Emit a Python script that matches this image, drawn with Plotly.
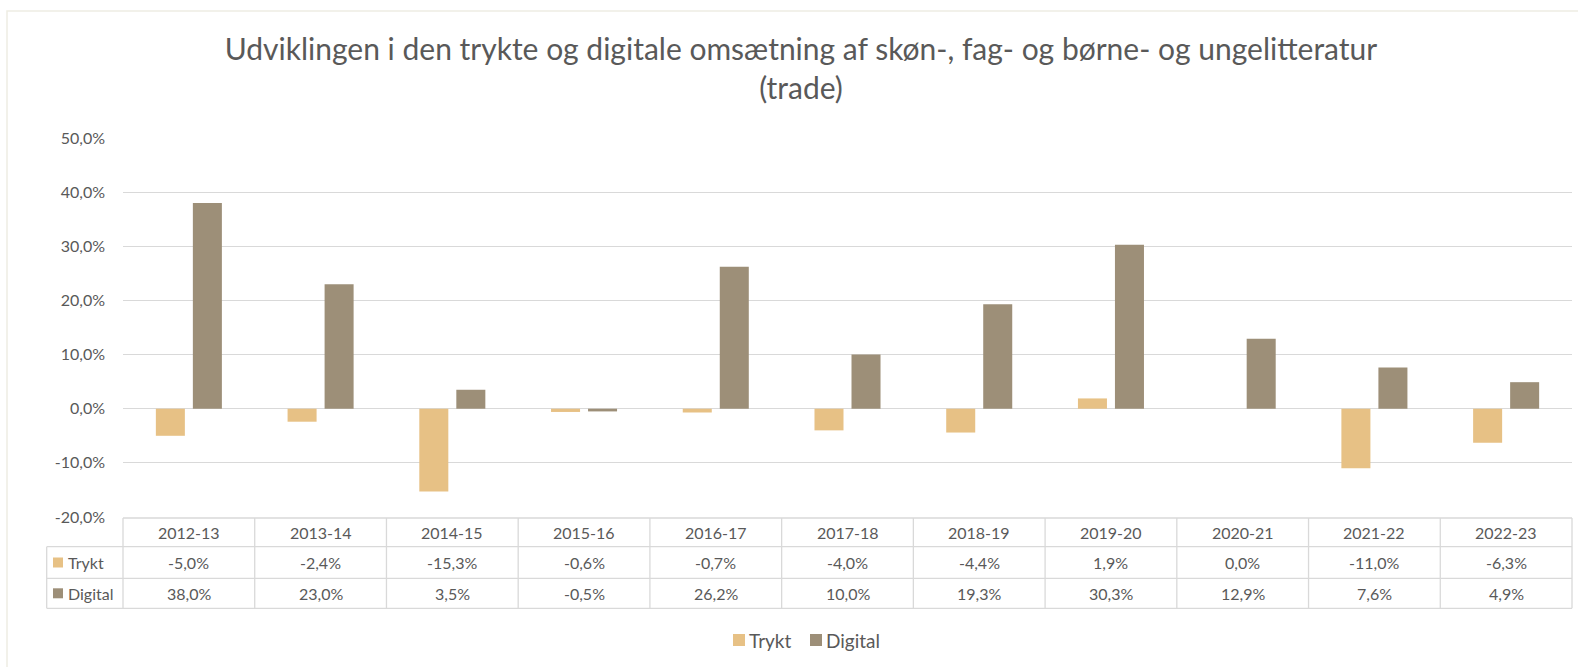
import plotly.graph_objects as go

# ---- data ----
categories = ["2012-13", "2013-14", "2014-15", "2015-16", "2016-17", "2017-18",
              "2018-19", "2019-20", "2020-21", "2021-22", "2022-23"]
trykt = [-5.0, -2.4, -15.3, -0.6, -0.7, -4.0, -4.4, 1.9, 0.0, -11.0, -6.3]
digital = [38.0, 23.0, 3.5, -0.5, 26.2, 10.0, 19.3, 30.3, 12.9, 7.6, 4.9]
series_names = ["Trykt", "Digital"]
y_ticks = [-20, -10, 0, 10, 20, 30, 40, 50]
title_text = "Udviklingen i den trykte og digitale omsætning af skøn-, fag- og børne- og ungelitteratur<br>(trade)"

# ---- style ----
W, H = 1578, 667
ML, MR, MT, MB = 123, 6, 138, 150
PW = W - ML - MR
PH = H - MT - MB
colors = ["#E7C185", "#9D8F78"]
txt = "#595959"
grid = "#D9D9D9"
FONT = "Lato"
FS = 16


def px(xp):
    return (xp - ML) / PW


def py(yp):
    return (MT + PH - yp) / PH


def fmt(v):
    return f"{v:.1f}".replace(".", ",") + "%"


fig = go.Figure()
for name, vals, c in zip(series_names, [trykt, digital], colors):
    fig.add_trace(go.Bar(x=categories, y=vals, name=name, marker_color=c,
                         marker_line_width=0, showlegend=False))

shapes = []
annotations = []
n = len(categories)
y_top, y_r1, y_r2, y_bot = 518, 546.7, 578.3, 608.3
left_x = 46.7

# table horizontal lines
shapes.append(dict(type="line", xref="paper", yref="paper", x0=0, x1=1,
                   y0=py(y_top), y1=py(y_top), line=dict(color=grid, width=1.3)))
for yy in [y_r1, y_r2, y_bot]:
    shapes.append(dict(type="line", xref="paper", yref="paper", x0=px(left_x), x1=1,
                       y0=py(yy), y1=py(yy), line=dict(color=grid, width=1.3)))
# table vertical lines
for i in range(n + 1):
    shapes.append(dict(type="line", xref="paper", yref="paper", x0=i / n, x1=i / n,
                       y0=py(y_top), y1=py(y_bot), line=dict(color=grid, width=1.3)))
shapes.append(dict(type="line", xref="paper", yref="paper", x0=px(left_x), x1=px(left_x),
                   y0=py(y_r1), y1=py(y_bot), line=dict(color=grid, width=1.3)))

# table text
for c in categories:
    annotations.append(dict(x=c, xref="x", y=py((y_top + y_r1) / 2), yref="paper",
                            text=c, showarrow=False, xanchor="center", yanchor="middle",
                            font=dict(family=FONT, size=FS, color=txt)))
row_centers = [(y_r1 + y_r2) / 2, (y_r2 + y_bot) / 2]
for name, vals, c, yc in zip(series_names, [trykt, digital], colors, row_centers):
    for cat, v in zip(categories, vals):
        annotations.append(dict(x=cat, xref="x", y=py(yc), yref="paper",
                                text=fmt(v), showarrow=False, xanchor="center",
                                yanchor="middle",
                                font=dict(family=FONT, size=FS, color=txt)))
    shapes.append(dict(type="rect", xref="paper", yref="paper", x0=px(53), x1=px(63),
                       y0=py(yc - 5), y1=py(yc + 5), fillcolor=c, line=dict(width=0)))
    annotations.append(dict(x=px(66), xref="paper", y=py(yc), yref="paper", text=name,
                            showarrow=False, xanchor="left", yanchor="middle",
                            font=dict(family=FONT, size=FS, color=txt)))

# bottom legend
leg_y = 640
leg_items = [(733, 747), (810, 824)]
for name, c, (sx, tx) in zip(series_names, colors, leg_items):
    shapes.append(dict(type="rect", xref="paper", yref="paper", x0=px(sx), x1=px(sx + 12),
                       y0=py(leg_y - 6), y1=py(leg_y + 6), fillcolor=c, line=dict(width=0)))
    annotations.append(dict(x=px(tx), xref="paper", y=py(leg_y), yref="paper", text=name,
                            showarrow=False, xanchor="left", yanchor="middle",
                            font=dict(family=FONT, size=19, color=txt)))

# outer border
shapes.append(dict(type="rect", xref="paper", yref="paper", x0=px(7), x1=px(1600),
                   y0=py(700), y1=py(11), line=dict(color="#EEEDE3", width=1.5),
                   fillcolor="rgba(0,0,0,0)", layer="below"))

fig.update_layout(
    width=W, height=H,
    margin=dict(l=ML, r=MR, t=MT, b=MB),
    paper_bgcolor="white", plot_bgcolor="white",
    separators=",.",
    barmode="group", bargap=0.438, bargroupgap=0.216,
    title=dict(text=title_text, x=801 / W, xref="container", xanchor="center",
               y=1 - 60 / H, yanchor="middle",
               font=dict(family=FONT, size=30, color=txt)),
    xaxis=dict(showticklabels=False, showgrid=False, showline=False, zeroline=False,
               range=[-0.5, n - 0.5]),
    yaxis=dict(range=[-20, 50], tickvals=y_ticks, ticktext=[fmt(v) for v in y_ticks],
               showgrid=True, gridcolor=grid, gridwidth=1.3, zeroline=False,
               showline=False, ticklabelstandoff=17,
               tickfont=dict(family=FONT, size=FS, color=txt)),
    shapes=shapes, annotations=annotations,
    font=dict(family=FONT, color=txt),
)

fig.write_html("out.html", config={"displayModeBar": False},
               post_script="document.body.style.margin='0';")
